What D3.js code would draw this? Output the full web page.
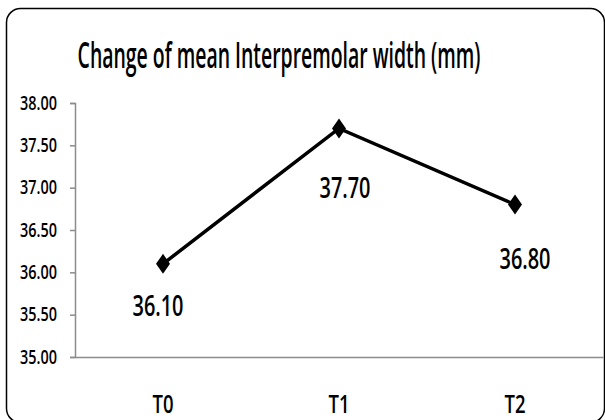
<!DOCTYPE html>
<html>
<head>
<meta charset="utf-8">
<script src="https://cdn.jsdelivr.net/npm/d3@7"></script>
<style>
  body { margin: 0; background: #fff; }
  svg text { font-family: "Open Sans", "Liberation Sans", sans-serif; font-weight: 600; fill: #000; }
</style>
</head>
<body>
<div id="chart"></div>
<script>
// chart values
const categories = ["T0", "T1", "T2"];
const meanWidth = [36.10, 37.70, 36.80];
const yTicks = [35.00, 35.50, 36.00, 36.50, 37.00, 37.50, 38.00];
const chartTitle = "Change of mean Interpremolar width (mm)";

const width = 605, height = 420;
const margin = { top: 103, right: 2, bottom: 63, left: 75 };

const svg = d3.select("#chart")
  .append("svg")
  .attr("width", width)
  .attr("height", height);

// outer rounded frame (runs slightly past the right/bottom edge like the picture)
svg.append("rect")
  .attr("x", 6.5)
  .attr("y", 8.5)
  .attr("width", 598)
  .attr("height", 414)
  .attr("rx", 14)
  .attr("fill", "none")
  .attr("stroke", "#000")
  .attr("stroke-width", 1.5);

const x = d3.scaleBand()
  .domain(categories)
  .range([margin.left, width - margin.right]);

const y = d3.scaleLinear()
  .domain([35, 38])
  .range([height - margin.bottom, margin.top]);

// title - squeezed horizontally to the narrow look of the original
const title = svg.append("text")
  .attr("text-anchor", "middle")
  .attr("font-size", 36)
  .text(chartTitle);
const titleScale = 403 / title.node().getComputedTextLength();
title.attr("transform", `translate(279,68) scale(${titleScale},1)`);

// y axis
const yAxis = svg.append("g")
  .attr("transform", `translate(${margin.left},0)`)
  .call(d3.axisLeft(y).tickValues(yTicks).tickFormat(d3.format(".2f")).tickSizeOuter(0).tickSize(5).tickPadding(13));
yAxis.select(".domain").attr("stroke", "#8c8c8c").attr("stroke-width", 1.5);
yAxis.selectAll(".tick line").attr("stroke", "#8c8c8c").attr("stroke-width", 1.5);
yAxis.selectAll(".tick text")
  .attr("font-size", 19)
  .attr("fill", "#000")
  .attr("textLength", 37)
  .attr("lengthAdjust", "spacingAndGlyphs");

// x axis
const xAxis = svg.append("g")
  .attr("transform", `translate(0,${height - margin.bottom})`)
  .call(d3.axisBottom(x).tickSize(0).tickPadding(38));
xAxis.select(".domain").attr("stroke", "#8c8c8c").attr("stroke-width", 1.5);
xAxis.selectAll(".tick text")
  .attr("font-size", 25)
  .attr("fill", "#000")
  .attr("textLength", 21)
  .attr("lengthAdjust", "spacingAndGlyphs");

const pts = categories.map((c, i) => ({ cat: c, value: meanWidth[i] }));
const cx = d => x(d.cat) + x.bandwidth() / 2;

// line
svg.append("path")
  .datum(pts)
  .attr("fill", "none")
  .attr("stroke", "#000")
  .attr("stroke-width", 3.5)
  .attr("d", d3.line().x(cx).y(d => y(d.value)));

// diamond markers
svg.selectAll("path.marker")
  .data(pts)
  .enter()
  .append("path")
  .attr("class", "marker")
  .attr("d", "M0,-10L7,0L0,10L-7,0Z")
  .attr("transform", d => `translate(${cx(d)},${y(d.value)})`)
  .attr("fill", "#000");

// data labels (below-right of each point)
const labelOffset = [[-5, 52], [6, 70], [10, 64]];
svg.selectAll("text.value")
  .data(pts)
  .enter()
  .append("text")
  .attr("class", "value")
  .attr("x", (d, i) => cx(d) + labelOffset[i][0])
  .attr("y", (d, i) => y(d.value) + labelOffset[i][1])
  .attr("text-anchor", "middle")
  .attr("font-size", 29)
  .attr("textLength", 51)
  .attr("lengthAdjust", "spacingAndGlyphs")
  .text(d => d.value.toFixed(2));
</script>
</body>
</html>
